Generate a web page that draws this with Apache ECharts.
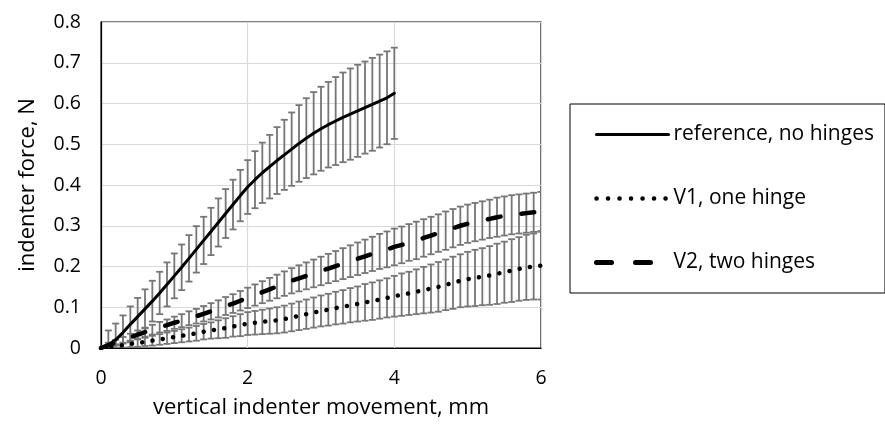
<!DOCTYPE html>
<html>
<head>
<meta charset="utf-8">
<script src="https://cdn.jsdelivr.net/npm/echarts@6/dist/echarts.min.js"></script>
<style>html,body{margin:0;padding:0;background:#fff}#c{width:885px;height:430px}</style>
</head>
<body>
<div id="c"></div>
<script>
var xs = [0,0.1,0.2,0.3,0.4,0.5,0.6,0.7,0.8,0.9,1,1.1,1.2,1.3,1.4,1.5,1.6,1.7,1.8,1.9,2,2.1,2.2,2.3,2.4,2.5,2.6,2.7,2.8,2.9,3,3.1,3.2,3.3,3.4,3.5,3.6,3.7,3.8,3.9,4,4.1,4.2,4.3,4.4,4.5,4.6,4.7,4.8,4.9,5,5.1,5.2,5.3,5.4,5.5,5.6,5.7,5.8,5.9,6];
var refMean = [0,0.008,0.02,0.038,0.058,0.077,0.096,0.115,0.135,0.156,0.177,0.198,0.22,0.242,0.264,0.286,0.308,0.33,0.352,0.374,0.395,0.413,0.43,0.445,0.46,0.474,0.488,0.502,0.515,0.527,0.538,0.548,0.557,0.566,0.574,0.582,0.59,0.598,0.606,0.614,0.625];
var refErr = [0.005,0.035,0.04,0.042,0.044,0.046,0.048,0.05,0.052,0.054,0.055,0.056,0.057,0.057,0.058,0.058,0.059,0.06,0.061,0.063,0.066,0.07,0.074,0.078,0.082,0.086,0.09,0.094,0.098,0.101,0.103,0.105,0.108,0.11,0.112,0.113,0.113,0.114,0.114,0.114,0.112];
var v1Mean = [0,0.002,0.004,0.007,0.01,0.012,0.015,0.018,0.021,0.024,0.027,0.03,0.033,0.036,0.04,0.043,0.046,0.049,0.053,0.056,0.06,0.062,0.064,0.066,0.068,0.071,0.075,0.079,0.083,0.087,0.091,0.094,0.098,0.101,0.105,0.108,0.112,0.115,0.119,0.123,0.127,0.131,0.134,0.138,0.142,0.146,0.15,0.155,0.16,0.165,0.169,0.172,0.175,0.178,0.182,0.186,0.19,0.194,0.198,0.2,0.202];
var v1Err = [0.002,0.004,0.005,0.006,0.008,0.009,0.01,0.012,0.013,0.014,0.015,0.016,0.017,0.018,0.019,0.02,0.022,0.024,0.025,0.027,0.028,0.029,0.03,0.031,0.032,0.033,0.034,0.035,0.036,0.037,0.038,0.039,0.04,0.041,0.042,0.043,0.045,0.046,0.047,0.048,0.05,0.052,0.053,0.055,0.057,0.059,0.061,0.062,0.064,0.065,0.067,0.069,0.07,0.072,0.074,0.075,0.077,0.078,0.08,0.081,0.083];
var v2Mean = [0,0.007,0.013,0.019,0.026,0.033,0.039,0.045,0.051,0.056,0.062,0.067,0.073,0.078,0.084,0.09,0.096,0.103,0.109,0.116,0.123,0.13,0.137,0.144,0.151,0.158,0.165,0.171,0.177,0.183,0.189,0.195,0.201,0.207,0.213,0.219,0.225,0.231,0.237,0.242,0.248,0.253,0.259,0.264,0.27,0.276,0.282,0.288,0.294,0.3,0.305,0.309,0.313,0.317,0.321,0.324,0.327,0.329,0.331,0.333,0.335];
var v2Err = [0.003,0.006,0.007,0.008,0.009,0.01,0.011,0.012,0.013,0.014,0.015,0.016,0.017,0.018,0.019,0.02,0.021,0.022,0.023,0.024,0.025,0.026,0.027,0.028,0.029,0.03,0.031,0.032,0.033,0.034,0.035,0.036,0.037,0.038,0.039,0.04,0.041,0.042,0.043,0.044,0.045,0.045,0.045,0.046,0.046,0.046,0.046,0.047,0.047,0.047,0.047,0.047,0.047,0.047,0.048,0.048,0.048,0.048,0.048,0.048,0.048];
var seriesNames = ['reference, no hinges','V1, one hinge','V2, two hinges'];
var xTitle = 'vertical indenter movement, mm';
var yTitle = 'indenter force, N';

var FONT = 'Open Sans';
function pts(m){ return m.map(function(v,i){ return [xs[i], v]; }); }
function errs(m,e){ return m.map(function(v,i){ return [xs[i], v - e[i], v + e[i]]; }); }
function renderErr(params, api){
  var x = api.value(0), lo = api.value(1), hi = api.value(2);
  var a = api.coord([x, hi]), b = api.coord([x, lo]);
  var w = 3.5, st = {stroke:'#767676', lineWidth:1.8};
  return {type:'group', children:[
    {type:'line', shape:{x1:a[0],y1:a[1],x2:b[0],y2:b[1]}, style:st},
    {type:'line', shape:{x1:a[0]-w,y1:a[1],x2:a[0]+w,y2:a[1]}, style:st},
    {type:'line', shape:{x1:b[0]-w,y1:b[1],x2:b[0]+w,y2:b[1]}, style:st}
  ]};
}
function errSeries(m,e){
  return {type:'custom', renderItem:renderErr, data:errs(m,e), encode:{x:0,y:[1,2]}, z:2, silent:true, clip:true};
}
var chart = echarts.init(document.getElementById('c'), null, {renderer:'canvas'});
chart.setOption({
  animation:false,
  backgroundColor:'#fff',
  textStyle:{fontFamily:FONT},
  grid:{left:101, right:344, top:22, bottom:82, show:true, borderColor:'#000', borderWidth:1.2, backgroundColor:'transparent'},
  xAxis:{type:'value', min:0, max:6, interval:2,
    name:xTitle, nameLocation:'middle', nameGap:49, nameTextStyle:{fontSize:22, color:'#000', fontFamily:FONT},
    axisLine:{show:true, lineStyle:{color:'#000', width:1.2}}, axisTick:{show:false},
    axisLabel:{fontSize:19.5, color:'#000', margin:20, fontFamily:FONT},
    splitLine:{show:true, lineStyle:{color:'#d9d9d9', width:1.2}}},
  yAxis:{type:'value', min:0, max:0.8, interval:0.1,
    name:yTitle, nameLocation:'middle', nameGap:62, nameRotate:90, nameTextStyle:{fontSize:22, color:'#000', fontFamily:FONT},
    axisLine:{show:true, lineStyle:{color:'#000', width:1.2}}, axisTick:{show:false},
    axisLabel:{fontSize:19.5, color:'#000', margin:20, fontFamily:FONT, formatter:function(v){return String(Math.round(v*10)/10);}},
    splitLine:{show:true, lineStyle:{color:'#d9d9d9', width:1.2}}},
  legend:{orient:'vertical', left:570, top:104, itemWidth:72, itemHeight:14, itemGap:43, itemTextGap:1,
    padding:[20,11,20,24], borderColor:'#000', borderWidth:1, backgroundColor:'#fff',
    itemStyle:{opacity:0},
    lineStyle:{width:'inherit'},
    data:[
      {name:seriesNames[0], lineStyle:{width:3, type:'solid'}},
      {name:seriesNames[1], lineStyle:{width:4.5, type:[0.1, 11.4], cap:'round'}},
      {name:seriesNames[2], lineStyle:{width:5, type:[15, 24], cap:'round'}}
    ],
    textStyle:{fontSize:21, color:'#000', fontFamily:FONT}},
  series:[
    errSeries(refMean, refErr),
    errSeries(v1Mean, v1Err),
    errSeries(v2Mean, v2Err),
    {name:seriesNames[0], type:'line', data:pts(refMean), symbol:'none', smooth:false, z:5,
      lineStyle:{color:'#000', width:3, cap:'round', join:'round'}, itemStyle:{color:'#000'}},
    {name:seriesNames[1], type:'line', data:pts(v1Mean), symbol:'none', z:5,
      lineStyle:{color:'#000', width:4.5, type:[0.1, 10.3], cap:'round'}, itemStyle:{color:'#000'}},
    {name:seriesNames[2], type:'line', data:pts(v2Mean), symbol:'none', z:5,
      lineStyle:{color:'#000', width:4.5, type:[13, 21], cap:'round'}, itemStyle:{color:'#000'}}
  ]
});
</script>
</body>
</html>
